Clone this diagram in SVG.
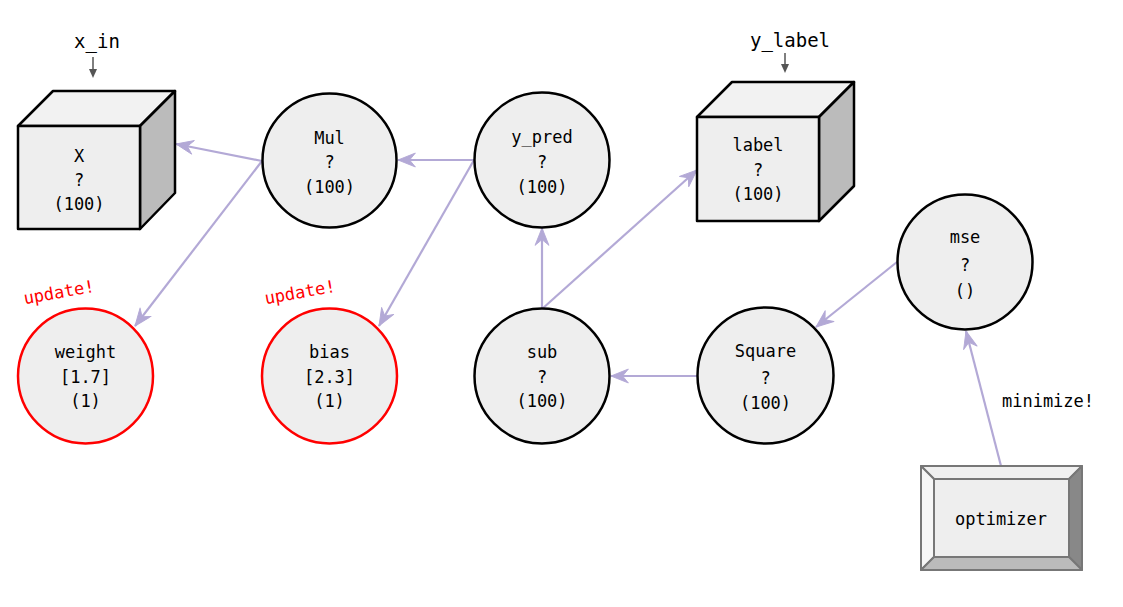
<svg xmlns="http://www.w3.org/2000/svg" width="1123" height="607" viewBox="0 0 1123 607">
<style>
  text { font-family: "DejaVu Sans Mono", "Liberation Mono", monospace; font-size: 17px; text-anchor: middle; fill: #000; }
  .big { font-size: 19px; }
  .red { fill: #ff0000; }
  .node { fill: #eeeeee; stroke: #000; stroke-width: 2.5; }
  .var { fill: #eeeeee; stroke: #ff0000; stroke-width: 2.5; }
  .front { fill: #eeeeee; stroke: #000; stroke-width: 2.5; stroke-linejoin: round; }
  .top { fill: #f2f2f2; stroke: #000; stroke-width: 2.5; stroke-linejoin: round; }
  .side { fill: #bbbbbb; stroke: #000; stroke-width: 2.5; stroke-linejoin: round; }
  .edge { stroke: #b3a9d6; stroke-width: 2.2; fill: none; marker-end: url(#arr); }
  .feed { stroke: #555; stroke-width: 1.5; fill: none; }
  .bev { stroke: #777; stroke-width: 2; stroke-linejoin: round; }
</style>
<defs>
  <marker id="arr" markerUnits="userSpaceOnUse" markerWidth="22" markerHeight="20" viewBox="-17 -8 19 16" refX="0" refY="0" orient="auto">
    <path d="M-15,-6 L0,0 L-15,6 L-10,0 Z" fill="#b3a9d6" stroke="#b3a9d6" stroke-width="0.8" stroke-linejoin="round"/>
  </marker>
</defs>

<g id="connectors">
  <line class="edge" x1="262" y1="161" x2="176" y2="144"/>
  <line class="edge" x1="262" y1="161" x2="135" y2="326"/>
  <line class="edge" x1="474" y1="160" x2="398" y2="160"/>
  <line class="edge" x1="474" y1="160" x2="379" y2="326"/>
  <line class="edge" x1="542" y1="309" x2="542" y2="228"/>
  <line class="edge" x1="542" y1="309" x2="697" y2="170"/>
  <line class="edge" x1="697" y1="376" x2="611" y2="376"/>
  <line class="edge" x1="897" y1="262" x2="816" y2="327"/>
  <line class="edge" x1="1001" y1="466" x2="966" y2="331"/>
  <line class="feed" x1="93" y1="57" x2="93" y2="70"/>
  <path d="M89,69 L97,69 L93,78 Z" fill="#555"/>
  <line class="feed" x1="785" y1="53" x2="785" y2="65"/>
  <path d="M781,64 L789,64 L785,73 Z" fill="#555"/>
</g>

<g id="x_in_label">
  <text class="big" x="97" y="48">x_in</text>
</g>
<g id="y_label_label">
  <text class="big" x="790" y="47">y_label</text>
</g>

<g id="X">
  <polygon class="top" points="18,126 53,91 175,91 140,126"/>
  <polygon class="side" points="140,126 175,91 175,193 140,229"/>
  <rect class="front" x="18" y="126" width="122" height="103"/>
  <text x="79" y="162">X</text>
  <text x="79" y="186">?</text>
  <text x="79" y="210">(100)</text>
</g>

<g id="label">
  <polygon class="top" points="697,117 732,82 854,82 819,117"/>
  <polygon class="side" points="819,117 854,82 854,186 819,221"/>
  <rect class="front" x="697" y="117" width="122" height="104"/>
  <text x="758" y="151">label</text>
  <text x="758" y="176">?</text>
  <text x="758" y="200">(100)</text>
</g>

<g id="Mul">
  <circle class="node" cx="329.5" cy="160.5" r="67"/>
  <text x="329.5" y="144">Mul</text>
  <text x="329.5" y="168">?</text>
  <text x="329.5" y="193">(100)</text>
</g>

<g id="y_pred">
  <circle class="node" cx="542" cy="160" r="67.5"/>
  <text x="542" y="143">y_pred</text>
  <text x="542" y="168">?</text>
  <text x="542" y="193">(100)</text>
</g>

<g id="weight">
  <circle class="var" cx="85.5" cy="376" r="67.5"/>
  <text x="85.5" y="358">weight</text>
  <text x="85.5" y="383">[1.7]</text>
  <text x="85.5" y="407">(1)</text>
  <text class="red" x="60" y="298" transform="rotate(-10 60 298)">update!</text>
</g>

<g id="bias">
  <circle class="var" cx="329.5" cy="376" r="67.5"/>
  <text x="329.5" y="358">bias</text>
  <text x="329.5" y="383">[2.3]</text>
  <text x="329.5" y="407">(1)</text>
  <text class="red" x="301" y="298" transform="rotate(-10 301 298)">update!</text>
</g>

<g id="sub">
  <circle class="node" cx="542" cy="376" r="67.5"/>
  <text x="542" y="358">sub</text>
  <text x="542" y="383">?</text>
  <text x="542" y="407">(100)</text>
</g>

<g id="Square">
  <circle class="node" cx="765.5" cy="375.5" r="68"/>
  <text x="765.5" y="357">Square</text>
  <text x="765.5" y="384">?</text>
  <text x="765.5" y="409">(100)</text>
</g>

<g id="mse">
  <circle class="node" cx="965" cy="262" r="67.5"/>
  <text x="965" y="243">mse</text>
  <text x="965" y="271">?</text>
  <text x="965" y="297">()</text>
</g>

<g id="optimizer">
  <polygon class="bev" fill="#f0f0f0" points="921,466 1082,466 1069,479 934,479"/>
  <polygon class="bev" fill="#f6f6f6" points="921,466 934,479 934,557 921,570"/>
  <polygon class="bev" fill="#888888" points="1082,466 1082,570 1069,557 1069,479"/>
  <polygon class="bev" fill="#bbbbbb" points="921,570 934,557 1069,557 1082,570"/>
  <rect class="bev" fill="#eeeeee" x="934" y="479" width="135" height="78"/>
  <text x="1001" y="525">optimizer</text>
  <text x="1048" y="407">minimize!</text>
</g>
</svg>
